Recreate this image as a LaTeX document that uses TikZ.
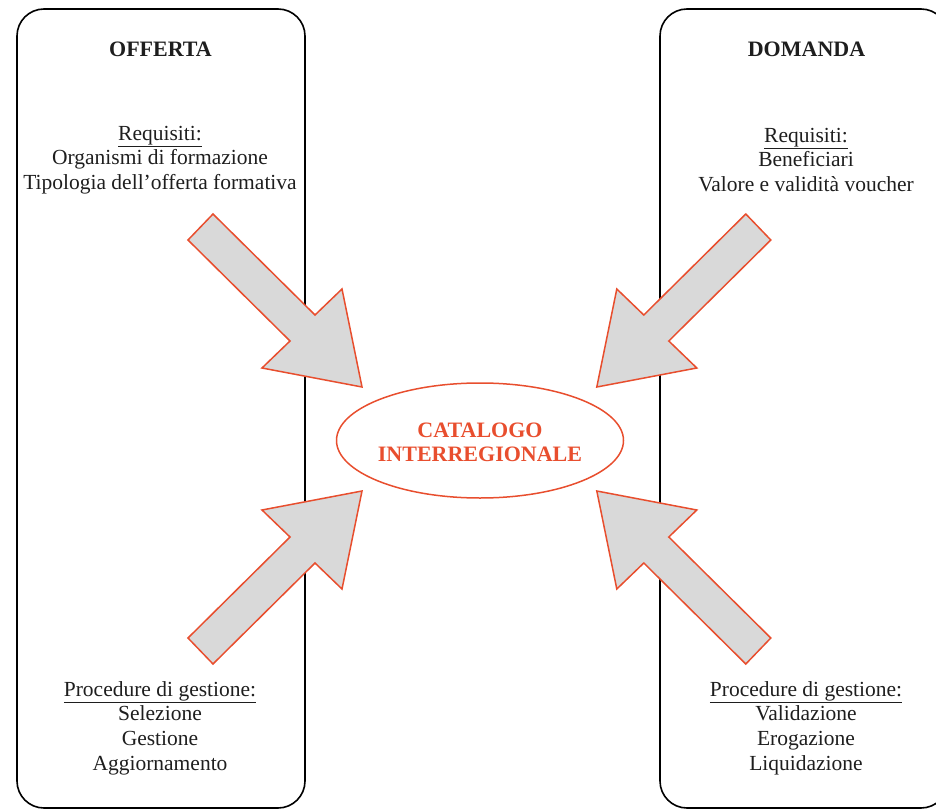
\documentclass[tikz,border=0pt]{standalone}
\usepackage{fontspec}
\setmainfont{Liberation Serif}
\usetikzlibrary{shapes.geometric}
\definecolor{arred}{RGB}{232,78,46}
\definecolor{argray}{RGB}{217,217,217}
\definecolor{txt}{RGB}{30,30,30}
\begin{document}
\begin{tikzpicture}[x=1pt,y=-1pt,
  panel/.style={draw=black,line width=1.6pt,rounded corners=27pt},
  blockarrow/.style={draw=arred,fill=argray,line width=1.5pt,line join=miter},
  heading/.style={font=\fontsize{22}{24}\selectfont\bfseries,text=txt,inner sep=0pt},
  body/.style={font=\fontsize{21.5}{24.6}\selectfont,align=center,text=txt,inner sep=0pt},
  catalog/.style={draw=arred,line width=1.5pt,ellipse,minimum width=287pt,minimum height=115pt,inner sep=0pt,font=\fontsize{22}{24}\selectfont\bfseries,text=arred,align=center}]
\useasboundingbox (0,0) rectangle (936,810);
\clip (0,0) rectangle (936,810);
% side panels
\draw[panel] (17,9) rectangle (305,808);
\draw[panel] (660,9) rectangle (948,808);
% block arrows (one shape, mirrored about the centre)
\foreach \sx/\sy in {1/1,-1/1,1/-1,-1/-1}{
  \begin{scope}[shift={(479.4,439)},xscale=\sx,yscale=\sy]
    \draw[blockarrow] (-291.4,-199) -- (-266.4,-225) -- (-164.4,-124) -- (-137.4,-150)
      -- (-117.4,-52) -- (-217.4,-71) -- (-189.4,-98) -- cycle;
  \end{scope}
}
% centre
\node[catalog] (cat) at (480,440.5) {};
\node[font=\fontsize{22}{24}\selectfont\bfseries,text=arred,align=center,inner sep=0pt] (catlabel) at (480,442) {CATALOGO\\INTERREGIONALE};
% texts
\node[heading] (offerta) at (160.5,49) {OFFERTA};
\node[heading] (domanda) at (806.5,49) {DOMANDA};
\node[body] (reqO) at (160,160) {\underline{Requisiti:}\\Organismi di formazione\\Tipologia dell’offerta formativa};
\node[body] (reqD) at (806,160) {\underline{Requisiti:}\\Beneficiari\\Valore e validità voucher};
\node[body] (procO) at (160,728) {\underline{Procedure di gestione:}\\Selezione\\Gestione\\Aggiornamento};
\node[body] (procD) at (806,728) {\underline{Procedure di gestione:}\\Validazione\\Erogazione\\Liquidazione};
\end{tikzpicture}
\end{document}
